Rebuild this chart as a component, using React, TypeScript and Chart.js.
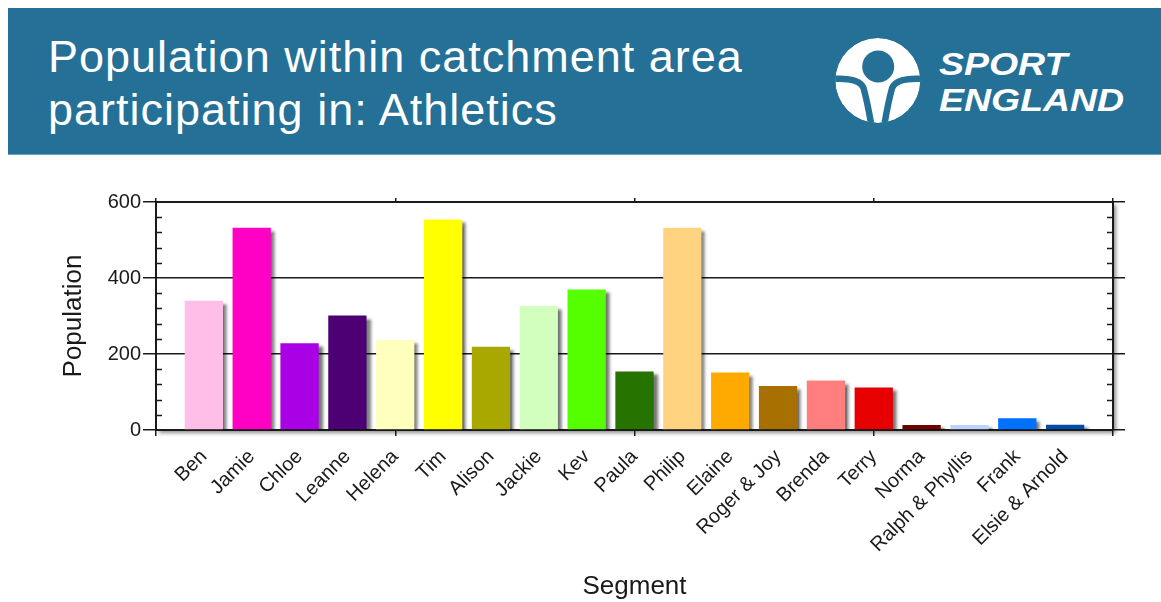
import React, { useEffect, useRef } from 'react';
import { Chart, registerables } from 'chart.js';

Chart.register(...registerables);

const SEGMENTS = ['Ben', 'Jamie', 'Chloe', 'Leanne', 'Helena', 'Tim', 'Alison', 'Jackie', 'Kev', 'Paula', 'Philip', 'Elaine', 'Roger & Joy', 'Brenda', 'Terry', 'Norma', 'Ralph & Phyllis', 'Frank', 'Elsie & Arnold'];
const POPULATION = [340, 532, 228, 301, 237, 554, 219, 326, 370, 154, 532, 151, 116, 130, 112, 13, 13, 31, 14];
const COLORS = ['#FFBEE8', '#FF00C5', '#A900E6', '#4C0073', '#FFFFBE', '#FFFF00', '#A8A800', '#D3FFBE', '#55FF00', '#267300', '#FFD37F', '#FFAA00', '#A87000', '#FF7F7F', '#E60000', '#730000', '#BED2FF', '#0070FF', '#004DA8'];
const Y_MIN = 0;
const Y_MAX = 600;
const Y_MAJOR_TICKS = [0, 200, 400, 600];
const Y_MINOR_TICKS = [40, 80, 120, 160, 240, 280, 320, 360, 440, 480, 520, 560];
const X_FRAME_TICK_STEP = 5;

const TITLE_LINES = ['Population within catchment area', 'participating in: Athletics'];
const BLUE = '#247096';
const INK = '#1a1a1a';
const FONT = '"Liberation Sans", Arial, sans-serif';

const Y_ALL_TICKS = [...Y_MAJOR_TICKS, ...Y_MINOR_TICKS].sort((a, b) => a - b);
const isMajor = (v: number) => Y_MAJOR_TICKS.includes(v);
const setYTicks = (s: any) => {
  s.ticks = Y_ALL_TICKS.map((value) => ({ value }));
};

const decorPlugin = {
  id: 'decor',
  beforeDraw(chart: any) {
    const { ctx, chartArea: a } = chart;
    ctx.save();
    ctx.shadowColor = 'rgba(0,0,0,0.45)';
    ctx.shadowBlur = 4;
    ctx.shadowOffsetX = 3;
    ctx.shadowOffsetY = 3;
    ctx.fillStyle = '#ffffff';
    ctx.fillRect(a.left, a.top, a.right - a.left, a.bottom - a.top);
    ctx.restore();
  },
  beforeDatasetsDraw(chart: any) {
    const { ctx } = chart;
    ctx.save();
    ctx.shadowColor = 'rgba(0,0,0,0.55)';
    ctx.shadowBlur = 3;
    ctx.shadowOffsetX = 4;
    ctx.shadowOffsetY = 3;
  },
  afterDatasetsDraw(chart: any) {
    chart.ctx.restore();
  },
  afterDraw(chart: any) {
    const { ctx, chartArea: a } = chart;
    const y = chart.scales.y;
    ctx.save();
    ctx.strokeStyle = INK;
    ctx.lineWidth = 1.5;
    Y_MINOR_TICKS.forEach((v) => {
      const p = Math.round(y.getPixelForValue(v)) + 0.5;
      ctx.beginPath();
      ctx.moveTo(a.left, p);
      ctx.lineTo(a.left + 6, p);
      ctx.moveTo(a.right - 6, p);
      ctx.lineTo(a.right, p);
      ctx.stroke();
    });
    ctx.restore();
  },
};

function BarChart() {
  const ref = useRef<HTMLCanvasElement>(null);
  useEffect(() => {
    if (!ref.current) return;
    Chart.defaults.font.family = FONT;
    const n = SEGMENTS.length;
    const chart = new Chart(ref.current, {
      type: 'bar',
      data: {
        datasets: [
          {
            data: POPULATION.map((v, i) => ({ x: i + 1, y: v })),
            backgroundColor: COLORS,
            borderWidth: 0,
            barPercentage: 0.8,
            categoryPercentage: 1,
          },
        ],
      },
      options: {
        animation: false,
        responsive: false,
        maintainAspectRatio: false,
        layout: { padding: 0 },
        plugins: { legend: { display: false }, tooltip: { enabled: false } },
        scales: {
          x: {
            type: 'linear',
            position: 'bottom',
            offset: false,
            min: 0,
            max: n + 1,
            ticks: {
              stepSize: 1,
              maxTicksLimit: 100,
              autoSkip: false,
              maxRotation: 45,
              minRotation: 45,
              padding: 9,
              color: INK,
              font: { size: 20 },
              callback: (v: any) => SEGMENTS[Number(v) - 1] ?? '',
            },
            grid: {
              offset: false,
              drawOnChartArea: false,
              tickLength: 6,
              lineWidth: 1.5,
              tickColor: (c: any) => (c.tick && c.tick.value % X_FRAME_TICK_STEP === 0 ? INK : 'rgba(0,0,0,0)'),
            },
            border: { color: INK, width: 2 },
            title: { display: true, text: 'Segment', color: INK, font: { size: 26 }, padding: { top: 0, bottom: 0 } },
            afterFit: (s: any) => { s.height = 172; },
          },
          xTop: {
            type: 'linear',
            position: 'top',
            offset: false,
            min: 0,
            max: n + 1,
            ticks: { display: false, stepSize: X_FRAME_TICK_STEP, maxTicksLimit: 100 },
            grid: { offset: false, drawOnChartArea: false, tickLength: 4, lineWidth: 1.5, tickColor: INK },
            border: { color: INK, width: 2 },
            afterFit: (s: any) => { s.height = 42; },
          },
          y: {
            type: 'linear',
            position: 'left',
            min: Y_MIN,
            max: Y_MAX,
            afterBuildTicks: setYTicks,
            ticks: {
              autoSkip: false,
              padding: 2,
              color: INK,
              font: { size: 20 },
              callback: (v: any) => (isMajor(Number(v)) ? String(v) : ''),
            },
            grid: {
              lineWidth: 1.5,
              tickLength: 13,
              color: (c: any) => (c.tick && isMajor(c.tick.value) && c.tick.value !== Y_MIN && c.tick.value !== Y_MAX ? INK : 'rgba(0,0,0,0)'),
              tickColor: (c: any) => (c.tick && isMajor(c.tick.value) ? INK : 'rgba(0,0,0,0)'),
            },
            border: { color: INK, width: 2 },
            title: { display: true, text: 'Population', color: INK, font: { size: 26 }, padding: { top: 58, bottom: 0 } },
            afterFit: (s: any) => { s.width = 156; },
          },
          yRight: {
            type: 'linear',
            position: 'right',
            min: Y_MIN,
            max: Y_MAX,
            afterBuildTicks: setYTicks,
            ticks: { display: false, autoSkip: false },
            grid: {
              drawOnChartArea: false,
              tickLength: 12,
              lineWidth: 1.5,
              tickColor: (c: any) => (c.tick && isMajor(c.tick.value) ? INK : 'rgba(0,0,0,0)'),
            },
            border: { color: INK, width: 2 },
            afterFit: (s: any) => { s.width = 48; },
          },
        },
      } as any,
      plugins: [decorPlugin],
    });
    return () => chart.destroy();
  }, []);
  return <canvas ref={ref} width={1161} height={442} style={{ position: 'absolute', left: 0, top: 160 }} />;
}

function Logo() {
  return (
    <>
      <svg width="86" height="88" viewBox="0 0 86 88" style={{ position: 'absolute', left: 835, top: 37 }}>
        <defs>
          <clipPath id="logoClip">
            <circle cx="42.8" cy="43.5" r="42.5" />
          </clipPath>
        </defs>
        <g clipPath="url(#logoClip)">
          <circle cx="42.8" cy="43.5" r="42.5" fill="#ffffff" />
          <circle cx="43.2" cy="29.5" r="16" fill={BLUE} />
          <path d="M -3 42 C 12 41, 25 43, 28.5 51 C 31 60, 34 74, 37 92" stroke={BLUE} strokeWidth="6.5" fill="none" />
          <path d="M 88.6 42 C 73.6 41, 60.6 43, 57.1 51 C 54.6 60, 51.6 74, 48.6 92" stroke={BLUE} strokeWidth="6.5" fill="none" />
        </g>
      </svg>
      <div
        style={{
          position: 'absolute',
          left: 939,
          top: 46,
          color: '#ffffff',
          fontFamily: FONT,
          fontStyle: 'italic',
          fontWeight: 900,
          fontSize: 32,
          lineHeight: '36px',
          transform: 'scaleX(1.17)',
          transformOrigin: 'left top',
          whiteSpace: 'nowrap',
        }}
      >
        SPORT
        <br />
        ENGLAND
      </div>
    </>
  );
}

export default function App() {
  return (
    <div style={{ position: 'absolute', left: 0, top: 0, width: 1161, height: 602, overflow: 'hidden', background: '#ffffff' }}>
      <div
        style={{
          position: 'absolute',
          left: 8,
          top: 8,
          width: 1153,
          height: 146,
          background: BLUE,
          borderBottom: '1px solid #6aa3c6',
        }}
      />
      <div
        style={{
          position: 'absolute',
          left: 48,
          top: 30,
          color: '#ffffff',
          fontFamily: FONT,
          fontSize: 45,
          letterSpacing: '1px',
          lineHeight: '53px',
          whiteSpace: 'nowrap',
        }}
      >
        {TITLE_LINES.map((l) => (
          <div key={l}>{l}</div>
        ))}
      </div>
      <Logo />
      <BarChart />
    </div>
  );
}
